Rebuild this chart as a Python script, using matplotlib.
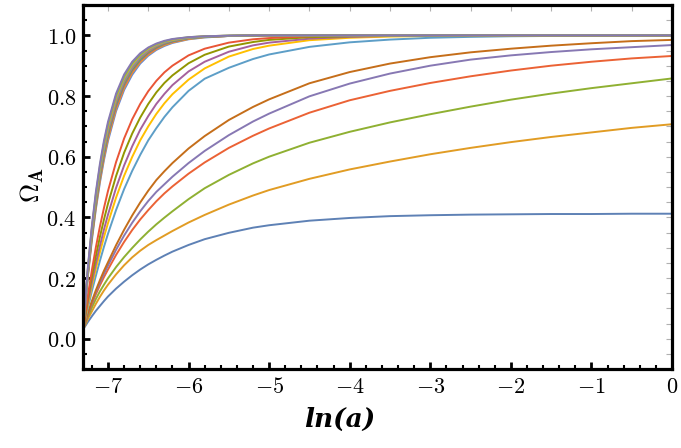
import matplotlib
matplotlib.use("Agg")
import matplotlib.pyplot as plt
from matplotlib.ticker import MultipleLocator, FormatStrFormatter

plt.rcParams['mathtext.fontset'] = 'cm'
plt.rcParams['font.family'] = ['DejaVu Serif']

# x grid, ln(a)
ln_a = [-7.31, -7.25, -7.2, -7.15, -7.1, -7.05, -7.0, -6.9, -6.8, -6.7,
        -6.6, -6.5, -6.4, -6.3, -6.2, -6.0, -5.8, -5.5, -5.2, -5.0,
        -4.5, -4.0, -3.5, -3.0, -2.5, -2.0, -1.5, -1.0, -0.5, 0.0]

# Omega_A curves (bottom curve first)
om1 = [.030, .055, .074, .092, .108, .124, .139, .165, .188, .209, .228, .245, .260, .274, .287,
       .309, .328, .349, .366, .374, .389, .398, .404, .407, .409, .410, .411, .411, .412, .412]
om2 = [.030, .065, .090, .115, .138, .159, .178, .212, .242, .268, .290, .309, .325, .340, .355,
       .383, .408, .442, .472, .490, .527, .558, .584, .608, .629, .648, .665, .680, .695, .707]
om3 = [.030, .072, .103, .131, .156, .178, .199, .236, .269, .299, .327, .353, .377, .399, .420,
       .460, .496, .540, .578, .600, .646, .682, .713, .740, .765, .788, .808, .826, .842, .858]
om4 = [.030, .078, .114, .147, .176, .203, .228, .276, .319, .358, .393, .424, .453, .479, .502,
       .544, .581, .629, .669, .693, .745, .786, .817, .843, .865, .884, .900, .913, .924, .932]
om5 = [.030, .081, .119, .154, .185, .214, .241, .293, .340, .382, .420, .454, .484, .509, .534,
       .579, .619, .671, .716, .742, .799, .841, .874, .900, .920, .934, .945, .954, .961, .968]
om6 = [.030, .084, .124, .160, .193, .224, .252, .308, .359, .406, .449, .488, .523, .552, .579,
       .627, .668, .721, .764, .789, .842, .879, .907, .928, .944, .956, .966, .974, .981, .985]
om7 = [.030, .101, .157, .208, .257, .303, .346, .424, .493, .553, .606, .654, .694, .731, .763,
       .817, .857, .893, .922, .937, .962, .977, .986, .992, .995, .997, .998, .999, 1.0, 1.0]
om8 = [.030, .110, .174, .231, .285, .335, .381, .465, .537, .599, .654, .700, .741, .776, .806,
       .854, .891, .930, .955, .966, .984, .992, .996, .998, .999, 1.0, 1.0, 1.0, 1.0, 1.0]
om9 = [.030, .119, .186, .249, .306, .360, .409, .497, .571, .634, .689, .734, .774, .807, .836,
       .881, .913, .946, .967, .976, .989, .995, .998, .999, 1.0, 1.0, 1.0, 1.0, 1.0, 1.0]
om10 = [.030, .129, .205, .273, .336, .393, .445, .536, .613, .676, .729, .774, .812, .843, .868,
        .908, .936, .963, .978, .985, .994, .997, .999, 1.0, 1.0, 1.0, 1.0, 1.0, 1.0, 1.0]
om11 = [.030, .142, .226, .302, .370, .431, .487, .582, .660, .723, .774, .816, .850, .878, .900,
        .934, .956, .976, .987, .991, .997, .999, 1.0, 1.0, 1.0, 1.0, 1.0, 1.0, 1.0, 1.0]
om12 = [.030, .205, .325, .428, .515, .589, .652, .750, .820, .870, .907, .933, .952, .965, .975,
        .987, .993, .998, .999, 1.0, 1.0, 1.0, 1.0, 1.0, 1.0, 1.0, 1.0, 1.0, 1.0, 1.0]
om13 = [.030, .208, .332, .435, .523, .597, .660, .758, .827, .877, .912, .937, .955, .968, .977,
        .988, .994, .998, .999, 1.0, 1.0, 1.0, 1.0, 1.0, 1.0, 1.0, 1.0, 1.0, 1.0, 1.0]
om14 = [.030, .212, .337, .442, .531, .605, .668, .765, .834, .883, .917, .941, .958, .971, .979,
        .990, .995, .998, .999, 1.0, 1.0, 1.0, 1.0, 1.0, 1.0, 1.0, 1.0, 1.0, 1.0, 1.0]
om15 = [.030, .215, .342, .449, .538, .613, .676, .773, .841, .888, .921, .945, .961, .973, .981,
        .991, .995, .998, .999, 1.0, 1.0, 1.0, 1.0, 1.0, 1.0, 1.0, 1.0, 1.0, 1.0, 1.0]
om16 = [.030, .219, .348, .457, .546, .622, .684, .780, .847, .893, .926, .948, .964, .975, .983,
        .992, .996, .998, 1.0, 1.0, 1.0, 1.0, 1.0, 1.0, 1.0, 1.0, 1.0, 1.0, 1.0, 1.0]
om17 = [.030, .223, .354, .464, .554, .629, .692, .788, .853, .898, .930, .952, .967, .977, .984,
        .992, .996, .999, 1.0, 1.0, 1.0, 1.0, 1.0, 1.0, 1.0, 1.0, 1.0, 1.0, 1.0, 1.0]
om18 = [.030, .227, .360, .470, .562, .637, .699, .794, .859, .903, .934, .955, .969, .979, .985,
        .993, .997, .999, 1.0, 1.0, 1.0, 1.0, 1.0, 1.0, 1.0, 1.0, 1.0, 1.0, 1.0, 1.0]
om19 = [.030, .231, .366, .477, .569, .645, .707, .801, .864, .908, .937, .958, .971, .980, .987,
        .994, .997, .999, 1.0, 1.0, 1.0, 1.0, 1.0, 1.0, 1.0, 1.0, 1.0, 1.0, 1.0, 1.0]
om20 = [.030, .235, .372, .485, .577, .653, .715, .808, .871, .913, .941, .960, .973, .982, .988,
        .994, .997, .999, 1.0, 1.0, 1.0, 1.0, 1.0, 1.0, 1.0, 1.0, 1.0, 1.0, 1.0, 1.0]

curves = [om1, om2, om3, om4, om5, om6, om7, om8, om9, om10,
          om11, om12, om13, om14, om15, om16, om17, om18, om19, om20]

# mathematica default palette
colors = ["#5E81B5", "#E19C24", "#8FB032", "#EB6235", "#8778B3",
          "#C56E1A", "#5D9EC7", "#FFBF00", "#A5609D", "#929600",
          "#E95536", "#6685D9", "#F89F13", "#BC5B80", "#47B66D",
          "#E06B58", "#5B9DCE", "#E3AD2A", "#8AB153", "#8778B3"]

fig = plt.figure(figsize=(6.81, 4.48), dpi=100)
ax = fig.add_axes([0.1219, 0.1763, 0.8649, 0.8125])

for y, c in zip(curves, colors):
    ax.plot(ln_a, y, color=c, lw=1.4, solid_capstyle='round', solid_joinstyle='round')

ax.set_xlim(-7.31, 0)
ax.set_ylim(-0.1, 1.1)

for s in ax.spines.values():
    s.set_linewidth(2.3)

ax.xaxis.set_major_locator(MultipleLocator(1))
ax.xaxis.set_minor_locator(MultipleLocator(0.2))
ax.yaxis.set_major_locator(MultipleLocator(0.2))
ax.yaxis.set_minor_locator(MultipleLocator(0.05))
ax.xaxis.set_major_formatter(FormatStrFormatter('$%d$'))
ax.yaxis.set_major_formatter(FormatStrFormatter('$%.1f$'))
ax.tick_params(which='major', direction='in', length=5, width=2, labelsize=16, pad=5)
ax.tick_params(which='minor', direction='in', length=3, width=1.5)

# light gray ticks on the top/right frame
top = ax.secondary_xaxis('top')
top.xaxis.set_major_locator(MultipleLocator(0.5))
top.tick_params(direction='in', length=4, width=0.8, color='#b0b0b0', labeltop=False)
right = ax.secondary_yaxis('right')
right.yaxis.set_major_locator(MultipleLocator(0.05))
right.tick_params(direction='in', length=4, width=0.8, color='#b0b0b0', labelright=False)
for sec in (top, right):
    for s in sec.spines.values():
        s.set_visible(False)

ax.set_xlabel('ln(a)', fontsize=19, fontweight='bold', fontstyle='italic',
              family='DejaVu Serif')
ax.xaxis.set_label_coords(0.435, -0.105)
ax.set_ylabel(r'$\mathbf{\Omega_A}$', fontsize=19)
ax.yaxis.set_label_coords(-0.062, 0.505)

fig.savefig('out.png', dpi=100)
